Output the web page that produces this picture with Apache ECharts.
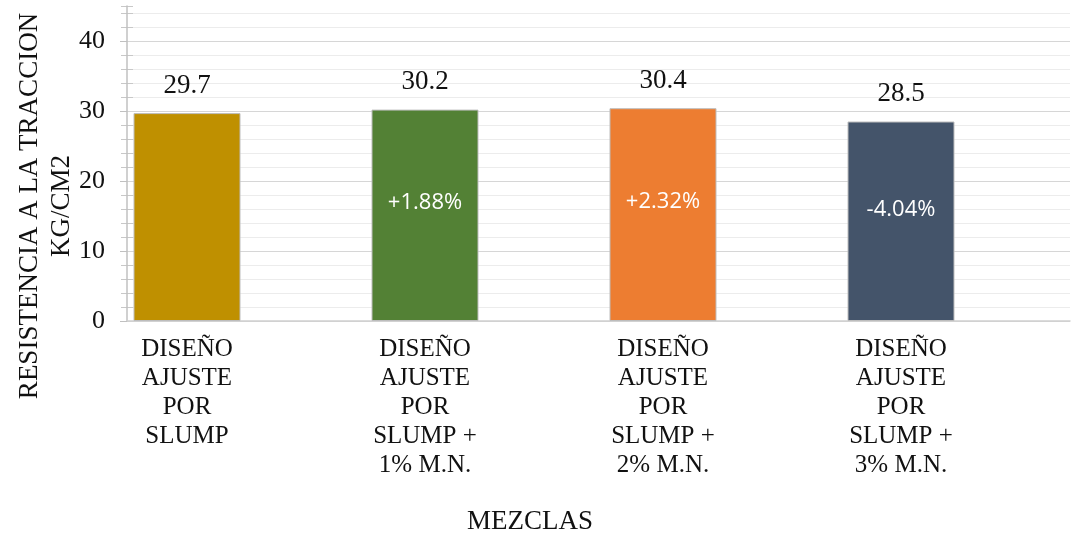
<!DOCTYPE html>
<html>
<head>
<meta charset="utf-8">
<script src="https://cdn.jsdelivr.net/npm/echarts@6/dist/echarts.min.js"></script>
<style>html,body{margin:0;padding:0;background:#fff}#c{width:1072px;height:536px}</style>
</head>
<body>
<div id="c"></div>
<script>
const categories = [
  'DISEÑO\nAJUSTE\nPOR\nSLUMP',
  'DISEÑO\nAJUSTE\nPOR\nSLUMP +\n1% M.N.',
  'DISEÑO\nAJUSTE\nPOR\nSLUMP +\n2% M.N.',
  'DISEÑO\nAJUSTE\nPOR\nSLUMP +\n3% M.N.'
];
const values = [29.7, 30.2, 30.4, 28.5];
const changeLabels = ['', '+1.88%', '+2.32%', '-4.04%'];
const yTitle = 'RESISTENCIA A LA TRACCION\nKG/CM2';
const xTitle = 'MEZCLAS';
const barColors = ['#BF9000', '#538135', '#ED7D31', '#44546A'];

const serif = '"Liberation Serif", "Times New Roman", serif';
const chart = echarts.init(document.getElementById('c'), null, {renderer: 'canvas'});
const yBase = {type: 'value', min: 0, max: 45};
const option = {
  animation: false,
  backgroundColor: '#ffffff',
  grid: [
    {left: 127, right: 2, top: 6, bottom: 215},
    {left: 68, right: 52, top: 6, bottom: 215}
  ],
  xAxis: [
    {type: 'category', gridIndex: 0, data: categories, z: 1,
     axisLine: {show: true, lineStyle: {color: '#d0d0d0', width: 1.5}},
     axisTick: {show: false}, axisLabel: {show: false}, splitLine: {show: false}},
    {type: 'category', gridIndex: 1, data: categories,
     axisLine: {show: false}, axisTick: {show: false},
     axisLabel: {show: true, interval: 0, margin: 14, fontFamily: serif, fontSize: 25,
                 lineHeight: 29, color: '#111111', align: 'center'}}
  ],
  yAxis: [
    Object.assign({}, yBase, {gridIndex: 0, interval: 10, z: 1,
      axisLine: {show: true, lineStyle: {color: '#c0c0c0', width: 1.5}},
      axisTick: {show: true, length: 7, lineStyle: {color: '#c0c0c0'}},
      axisLabel: {show: true, showMaxLabel: false, margin: 22, fontFamily: serif, fontSize: 26, color: '#111111'},
      splitLine: {show: true, showMaxLine: false, lineStyle: {color: '#d6d6d6', width: 1.2}}}),
    Object.assign({}, yBase, {gridIndex: 0, interval: 2, z: 0, position: 'left',
      axisLine: {show: false},
      axisTick: {show: true, length: 6, lineStyle: {color: '#c8c8c8'}},
      axisLabel: {show: false},
      splitLine: {show: true, showMaxLine: false, lineStyle: {color: '#ececec', width: 1.2}}}),
    Object.assign({}, yBase, {gridIndex: 0, interval: 2, z: 0, position: 'left',
      axisLine: {show: false},
      axisTick: {show: true, inside: true, length: 6, lineStyle: {color: '#c8c8c8'}},
      axisLabel: {show: false}, splitLine: {show: false}}),
    Object.assign({}, yBase, {gridIndex: 1, show: false})
  ],
  series: [
    {type: 'bar', xAxisIndex: 1, yAxisIndex: 3, barWidth: 107, z: 3,
     data: values.map((v, i) => ({value: v, itemStyle: {color: barColors[i]}})),
     itemStyle: {borderColor: '#bdbdbd', borderWidth: 1},
     label: {show: true, position: 'top', distance: 14, fontFamily: serif, fontSize: 27, color: '#111111',
             formatter: p => values[p.dataIndex].toFixed(1)}},
    {type: 'bar', xAxisIndex: 1, yAxisIndex: 3, barWidth: 107, barGap: '-100%', z: 4,
     data: values, itemStyle: {color: 'rgba(0,0,0,0)'},
     label: {show: true, position: ['50%', '44%'], align: 'center', verticalAlign: 'middle',
             fontFamily: '"Open Sans", sans-serif', fontSize: 22, color: '#ffffff',
             formatter: p => changeLabels[p.dataIndex]}}
  ],
  graphic: [
    {type: 'text', x: 46, y: 206, rotation: Math.PI / 2,
     style: {text: yTitle, fontFamily: serif, fontSize: 27, lineHeight: 32, fill: '#111111',
             align: 'center', verticalAlign: 'middle'}},
    {type: 'text', x: 530, y: 522,
     style: {text: xTitle, fontFamily: serif, fontSize: 27, fill: '#111111',
             align: 'center', verticalAlign: 'middle'}}
  ]
};
chart.setOption(option);
</script>
</body>
</html>
